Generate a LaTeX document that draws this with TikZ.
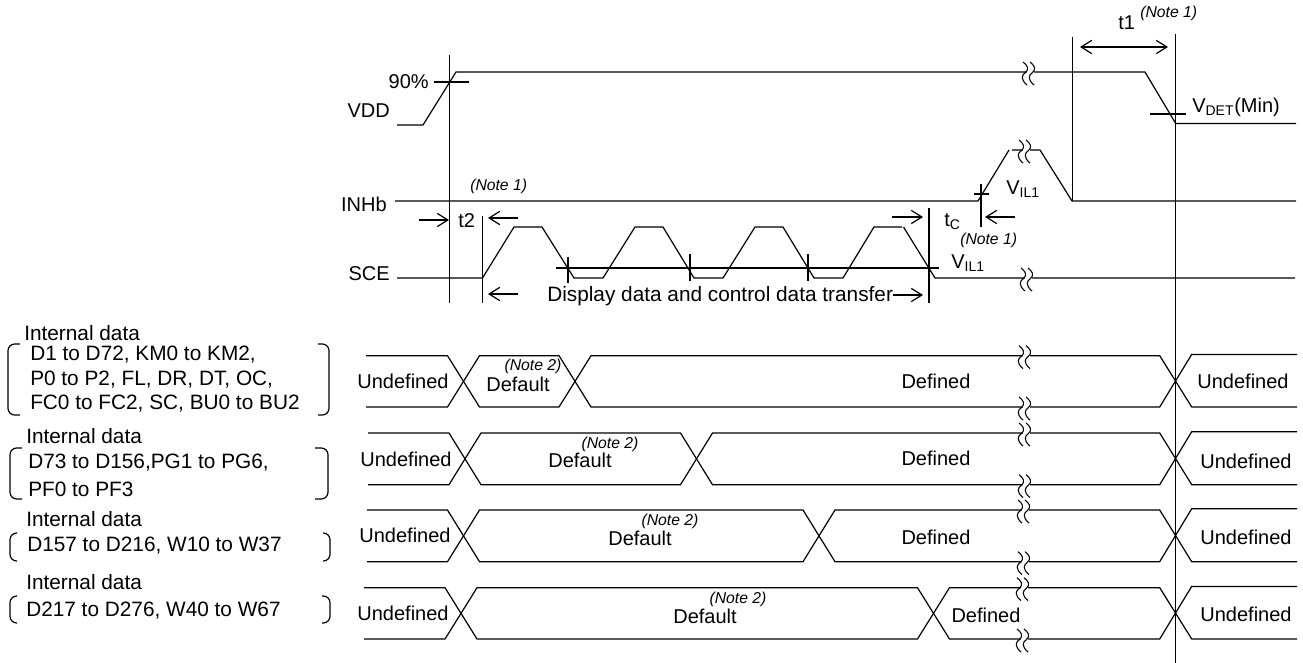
\documentclass[tikz,border=0pt]{standalone}
\usepackage{fontspec}
\setmainfont{Liberation Sans}
\usetikzlibrary{arrows.meta}
\tikzset{
  sig/.style={line width=0.9pt},
  guide/.style={line width=0.9pt},
  txt/.style={inner sep=0pt, font=\fontsize{15}{15}\selectfont},
  longtxt/.style={inner sep=0pt, font=\fontsize{15.6}{16}\selectfont},
  note/.style={inner sep=0pt, font=\fontsize{11.8}{12}\selectfont\itshape},
  dim/.style={line width=0.9pt, -{Straight Barb[length=8pt,width=10pt]}},
  dimboth/.style={line width=0.9pt, {Straight Barb[length=8pt,width=10pt]}-{Straight Barb[length=8pt,width=10pt]}}
}
% break mark on a signal line at x, y
\newcommand{\brk}[2]{
  \fill[white] (#1+2,#2-2) rectangle (#1+9,#2+2);
  \foreach \o in {0,7}
    \draw[line width=0.8pt] (#1+\o-2,#2-10) .. controls (#1+\o+2,#2-7) and (#1+\o+5,#2-3) .. (#1+\o,#2+1)
      .. controls (#1+\o-3,#2+3) and (#1+\o-5,#2+7) .. (#1+\o+2,#2+13);
}
\begin{document}
\begin{tikzpicture}[x=0.75pt, y=-0.75pt]
\useasboundingbox (0,0) rectangle (1303,663);
% Guides
\draw[guide] (449.5,55) -- (449.5,303);
\draw[guide] (482.5,216) -- (482.5,303);
\draw[guide] (929,208) -- (929,303);
\draw[guide] (981,184) -- (981,227);
\draw[guide] (1072.7,37) -- (1072.7,201);
\draw[guide] (1175.7,34) -- (1175.7,663);
% VDD
\draw[sig] (397,125) -- (423,125) -- (456,72) -- (1145,72) -- (1175.7,123.5) -- (1296,123.5);
\brk{1025}{72}
\draw[guide] (434,82) -- (469,82);
\draw[guide] (1150,114) -- (1186,114);
% INHb
\draw[sig] (395,201) -- (978,201) -- (1009,150);
\draw[sig] (1012,150) -- (1040,150) -- (1072,201) -- (1296,201);
\brk{1021}{150}
\draw[guide] (974,194) -- (989,194);
% SCE
\draw[sig] (397,278) -- (482.5,278) -- (514,227) -- (542,227) -- (574,278) -- (603,278)
  -- (635,227) -- (663,227) -- (694,278) -- (723,278) -- (755,227) -- (783,227)
  -- (814,278) -- (843,278) -- (874,227) -- (902,227);
\draw[sig] (903.5,227) -- (935,278) -- (1295,278);
\brk{1023}{278}
\draw[guide] (556,268) -- (939,268);
\foreach \x/\s/\e in {568/257/283, 690/254/281, 808/254/281}
  \draw[guide] (\x,\s) -- (\x,\e);
% Data rows: top, bottom, left end, first crossing, second crossing, break
\foreach \t/\b/\l/\p/\q/\k in {355.7/407/366/463.5/575/1021, 433/484.7/368/465/696.5/1021,
    510/561.7/367/463.5/819/1020, 587.7/639/364/461/933.5/1019}{
  \draw[sig] (\l,\t) -- (\p-16,\t) -- (\p+16,\b) -- (\q-16,\b) -- (\q+16,\t) -- (1159.7,\t) -- (1191.7,\b) -- (1297,\b);
  \draw[sig] (\l,\b) -- (\p-16,\b) -- (\p+16,\t) -- (\q-16,\t) -- (\q+16,\b) -- (1159.7,\b) -- (1191.7,\t-1.3) -- (1297,\t-1.3);
  \brk{\k}{\t}
  \brk{\k}{\b}
}
% Dimension arrows
\draw[dim] (419,220) -- (449,220);
\draw[dim] (518,218) -- (488,218);
\draw[dim] (518,294) -- (488,294);
\draw[dim] (892,217) -- (923,217);
\draw[dim] (893,295) -- (923,295);
\draw[dim] (1015,217) -- (985,217);
\draw[dimboth] (1080,47) -- (1168,47);
% Signal labels
\node[txt, anchor=east] (pct) at (429,82) {90\%};
\node[txt, anchor=east] (vdd) at (390,111) {VDD};
\node[txt, anchor=east] (inhb) at (387,204) {INHb};
\node[txt, anchor=east] (sce) at (390,274) {SCE};
\node[txt, anchor=west] (ttwo) at (458,221) {t2};
\node[txt, anchor=west] (tone) at (1118,23) {t1};
\node[txt, anchor=west] (tc) at (944,222) {t\textsubscript{C}};
\node[txt, anchor=west] (vdet) at (1192,107) {V\textsubscript{DET}(Min)};
\node[txt, anchor=west] (vila) at (1006,189) {V\textsubscript{IL1}};
\node[txt, anchor=west] (vilb) at (951,263) {V\textsubscript{IL1}};
\node[longtxt, anchor=west] (xfer) at (547,296) {Display data and control data transfer};
\node[note, anchor=west] (noa) at (470,186) {(Note 1)};
\node[note, anchor=west] (nob) at (960,240) {(Note 1)};
\node[note, anchor=west] (noc) at (1140,13) {(Note 1)};
% Row labels
\foreach \n/\x/\y in {ua/403/381, ub/406/459, uc/405/535, ud/403/613,
    ue/1243/381, uf/1246/461, ug/1246/537, uh/1246/614}
  \node[txt] (\n) at (\x,\y) {Undefined};
\foreach \n/\x/\y in {da/518/384, db/580/460, dc/640/538, dd/705/616}
  \node[txt] (\n) at (\x,\y) {Default};
\foreach \n/\x/\y in {na/533/366, nb/610/444, nc/670/521, nd/738/599}
  \node[note] (\n) at (\x,\y) {(Note 2)};
\foreach \n/\x/\y in {fa/936/381, fb/936/458, fc/936/537, fd/986/615}
  \node[txt] (\n) at (\x,\y) {Defined};
% Left column
\foreach \n/\x/\y in {ia/24/333, ib/26/436, ic/26/519, id/26/582}
  \node[longtxt, anchor=west] (\n) at (\x,\y) {Internal data};
\node[longtxt, anchor=west] (la) at (30,355) {D1 to D72, KM0 to KM2,};
\node[longtxt, anchor=west] (lb) at (30,380) {P0 to P2, FL, DR, DT, OC,};
\node[longtxt, anchor=west] (lc) at (30,404) {FC0 to FC2, SC, BU0 to BU2};
\node[longtxt, anchor=west] (ld) at (28,463) {D73 to D156,PG1 to PG6,};
\node[longtxt, anchor=west] (le) at (28,489) {PF0 to PF3};
\node[longtxt, anchor=west] (lf) at (27,546) {D157 to D216, W10 to W37};
\node[longtxt, anchor=west] (lg) at (26,611) {D217 to D276, W40 to W67};
% Brackets
\foreach \a/\c/\f/\g/\s/\e in {20/8/318/329/344/415, 22/10/315/328/448/499,
    17/10/323/330/533/561, 17/10/322/330/596/623}{
  \draw[sig, rounded corners=5pt] (\a,\s) -- (\c,\s) -- (\c,\e) -- (\a,\e);
  \draw[sig, rounded corners=5pt] (\f,\s) -- (\g,\s) -- (\g,\e) -- (\f,\e);
}
\end{tikzpicture}
\end{document}
